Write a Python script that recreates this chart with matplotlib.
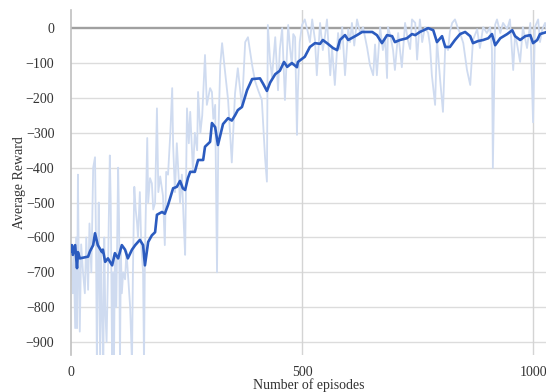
import matplotlib
matplotlib.use("Agg")
import matplotlib.pyplot as plt

# Raw (per-episode) rewards, light line
raw_ep = [0, 2, 4, 6, 9, 11, 13, 15, 17, 19, 22, 26, 30, 33, 37, 40, 44, 48, 52, 54,
          56, 58, 60, 63, 65, 67, 70, 72, 74, 77, 80, 84, 86, 89, 91, 93, 95, 98, 102, 104,
          106, 108, 110, 113, 117, 120, 123, 128, 132, 134, 137, 140, 143, 145, 149, 152, 156, 158, 160, 165,
          167, 171, 175, 178, 182, 186, 189, 193, 199, 203, 206, 210, 215, 219, 221, 225, 229, 236, 240, 244,
          247, 251, 255, 258, 264, 268, 273, 275, 280, 284, 290, 294, 301, 305, 308, 312, 316, 319, 323, 327,
          333, 340, 348, 355, 361, 370, 377, 383, 392, 398, 405, 413, 420, 424, 426, 431, 435, 442, 448, 452,
          457, 463, 470, 474, 478, 481, 485, 489, 491, 495, 500, 506, 513, 517, 522, 528, 532, 539, 545, 550,
          554, 561, 565, 571, 578, 582, 587, 593, 600, 604, 608, 613, 619, 626, 632, 641, 647, 654, 658, 662,
          669, 675, 680, 684, 686, 691, 697, 701, 708, 716, 723, 729, 734, 738, 745, 749, 755, 760, 766, 773,
          777, 781, 788, 792, 799, 805, 810, 816, 820, 825, 831, 838, 842, 849, 857, 864, 870, 879, 885, 892,
          900, 907, 911, 913, 918, 922, 929, 935, 944, 950, 957, 961, 965, 972, 978, 987, 994, 1000, 1004, 1011,
          1015, 1020, 1026, 1030]
raw_val = [-620, -700, -760, -650, -860, -600, -860, -420, -700, -870, -620, -700, -760, -600, -750, -560, -700, -400, -370, -600,
           -960, -700, -500, -960, -640, -800, -960, -600, -800, -900, -700, -365, -500, -960, -700, -960, -650, -800, -400, -550,
           -960, -640, -760, -700, -720, -640, -700, -800, -960, -700, -455, -520, -560, -600, -470, -620, -700, -960, -650, -315,
           -500, -430, -445, -520, -500, -230, -470, -425, -480, -622, -412, -420, -300, -172, -335, -470, -330, -500, -420, -560,
           -650, -230, -330, -240, -412, -300, -350, -183, -300, -250, -77, -220, -172, -183, -260, -220, -700, -300, -106, -43,
           -120, -206, -385, -187, -115, -225, -40, -26, -106, -150, -178, -206, -372, -440, 9, -95, -140, -26, -178, -60,
           0, -206, 9, -57, -106, -17, -26, -306, -183, -40, 9, 25, -14, -40, 25, -34, -135, 15, -63, -20,
           25, -135, -57, -163, -14, -60, 3, -135, -3, -40, 15, -50, 25, -14, 3, -57, -106, -135, -47, -135,
           3, -63, -30, -143, 3, -20, -63, -120, -14, -112, 15, -34, -60, 25, 15, -90, 25, -40, 3, -14,
           -50, -135, -220, -34, -150, -240, -47, -63, -10, 15, 25, -3, -14, -43, -120, -163, -34, -3, -57, 3,
           -14, 3, -60, -401, 10, 25, -14, 15, -3, 25, -120, -20, -43, -97, 3, -57, 15, -270, 3, 25,
           -40, -3, 15, -10]

# Smoothed (average) reward, dark line
avg_ep = [0, 2, 4, 9, 13, 15, 19, 37, 41, 48, 52, 58, 67, 69, 74, 80, 89, 95, 102, 110,
          117, 123, 132, 139, 145, 149, 156, 160, 167, 175, 182, 186, 197, 203, 210, 221, 229, 236, 242, 247,
          253, 258, 268, 275, 286, 290, 301, 305, 312, 318, 329, 340, 348, 355, 361, 370, 381, 392, 409, 416,
          424, 431, 442, 452, 461, 468, 478, 489, 491, 506, 517, 528, 539, 545, 556, 567, 576, 582, 593, 600,
          619, 630, 652, 662, 673, 684, 695, 701, 712, 727, 738, 745, 755, 773, 784, 792, 803, 810, 820, 831,
          842, 853, 864, 870, 881, 892, 903, 911, 918, 929, 944, 955, 961, 972, 983, 994, 1000, 1009, 1015, 1030]
avg_val = [-640, -622, -650, -622, -688, -642, -660, -655, -640, -622, -588, -622, -642, -635, -670, -660, -680, -645, -660, -622,
           -635, -660, -635, -622, -613, -607, -622, -680, -613, -594, -585, -535, -527, -532, -507, -459, -455, -438, -459, -464,
           -430, -412, -412, -378, -378, -340, -326, -272, -284, -335, -275, -258, -265, -250, -235, -226, -178, -146, -144, -160,
           -180, -156, -132, -122, -97, -111, -100, -112, -97, -82, -54, -43, -45, -34, -45, -57, -63, -34, -20, -34,
           -20, -11, -11, -20, -43, -20, -23, -40, -34, -29, -17, -20, -11, 0, -6, -40, -23, -54, -54, -34,
           -17, -11, -23, -43, -37, -34, -29, -17, -49, -29, -17, -6, -23, -34, -23, -20, -43, -34, -17, -11]

y_ticks = [0, -100, -200, -300, -400, -500, -600, -700, -800, -900]
x_ticks = [0, 500, 1000]

plt.rcParams['font.family'] = ['Liberation Serif', 'DejaVu Serif']

fig = plt.figure(figsize=(5.46, 3.92), dpi=100)
ax = fig.add_axes([71 / 546, 1 - 355 / 392, 1 - 71 / 546, 345 / 392])

for y in y_ticks[1:]:
    ax.axhline(y, color='#dcdcdc', lw=1.0, zorder=0)
ax.axhline(0, color='#a0a0a0', lw=1.7, zorder=0)
for x in x_ticks[1:]:
    ax.axvline(x, color='#d4d4d4', lw=1.0, zorder=0)

ax.plot(raw_ep, raw_val, color='#cfdbf0', lw=1.3, zorder=2)
ax.plot(avg_ep, avg_val, color='#2b5bbf', lw=1.9, zorder=3)

ax.set_xlim(0, 1028)
ax.set_ylim(-937, 52)
ax.set_xticks(x_ticks)
ax.set_yticks(y_ticks)
ax.tick_params(length=0, labelsize=10, colors='#333333')
ax.tick_params(axis='y', pad=12)
ax.tick_params(axis='x', pad=8)
for s in ['top', 'right', 'bottom']:
    ax.spines[s].set_visible(False)
ax.spines['left'].set_color('#c0c0c0')
ax.spines['left'].set_linewidth(1.2)

ax.set_xlabel('Number of episodes', fontsize=10, color='#333333', labelpad=-1)
ax.set_ylabel('Average Reward', fontsize=10, color='#333333', labelpad=0)

fig.savefig('out.png', dpi=100)
